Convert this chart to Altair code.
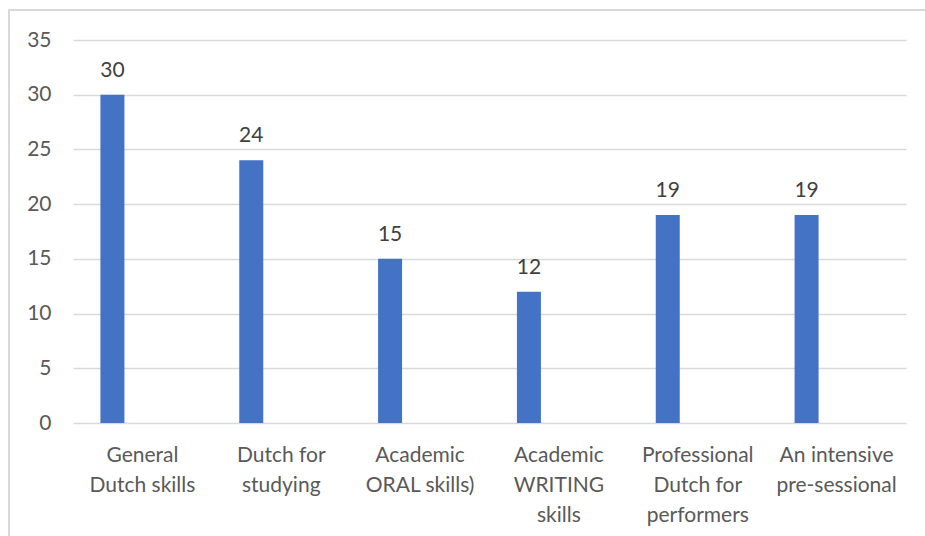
import altair as alt
import pandas as pd

# Survey counts per course type
categories = [
    "General\nDutch skills",
    "Dutch for\nstudying",
    "Academic\nORAL skills)",
    "Academic\nWRITING\nskills",
    "Professional\nDutch for\nperformers",
    "An intensive\npre-sessional",
]
counts = [30, 24, 15, 12, 19, 19]
y_ticks = [0, 5, 10, 15, 20, 25, 30, 35]

df = pd.DataFrame({"course": categories, "count": counts})

FONT = "Lato"
FS = 21
PLOT_W, PLOT_H = 833, 383

x_enc = alt.X(
    "course:N",
    sort=categories,
    scale=alt.Scale(paddingInner=0, paddingOuter=0),
    axis=alt.Axis(
        title=None,
        labelAngle=0,
        labelExpr="split(datum.label, '\\n')",
        labelFontSize=FS,
        labelFont=FONT,
        labelColor="#595959",
        labelLineHeight=30,
        labelPadding=21,
        labelBaseline="top",
        domain=False,
        ticks=False,
        grid=False,
    ),
)

y_enc = alt.Y(
    "count:Q",
    scale=alt.Scale(domain=[0, 35], nice=False),
    axis=alt.Axis(
        title=None,
        values=y_ticks,
        labelFontSize=FS,
        labelFont=FONT,
        labelColor="#595959",
        labelPadding=22,
        domain=False,
        ticks=False,
        gridColor="#d9d9d9",
        gridWidth=1.3,
    ),
)

bars = alt.Chart(df).mark_bar(width=24, xOffset=-30, color="#4472C4").encode(
    x=x_enc, y=y_enc
)

labels = alt.Chart(df).mark_text(
    xOffset=-30, dy=-14, baseline="bottom", fontSize=FS, font=FONT, color="#404040"
).encode(x=alt.X("course:N", sort=categories), y="count:Q", text="count:Q")

# Chart-area frame (top and left edges fall inside the page)
frame = alt.Chart(df).mark_rect(
    filled=False, stroke="#d9d9d9", strokeWidth=1.5, clip=False
).encode(
    x=alt.value(-64), x2=alt.value(PLOT_W + 40),
    y=alt.value(-30), y2=alt.value(PLOT_H + 140),
)

chart = (
    alt.layer(frame, bars, labels)
    .properties(
        width=PLOT_W,
        height=PLOT_H,
        autosize=alt.AutoSizeParams(type="none"),
        padding={"left": 73, "top": 40, "right": 19, "bottom": 113},
        background="white",
    )
    .configure_view(stroke=None)
)

chart.save("out.html", embed_options={"renderer": "svg", "actions": False})
